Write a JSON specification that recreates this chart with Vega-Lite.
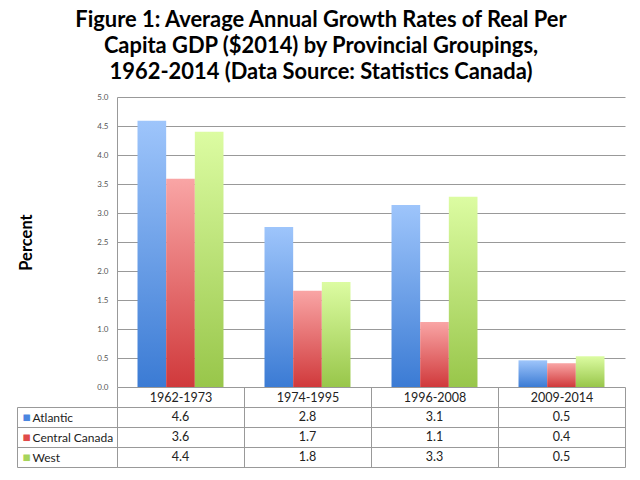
{
  "$schema": "https://vega.github.io/schema/vega-lite/v6.json",
  "background": "white",
  "padding": {"left": 16, "top": 8, "right": 16, "bottom": 14},
  "config": {"view": {"stroke": null}, "font": "Lato"},
  "title": {
    "text": ["Figure 1: Average Annual Growth Rates of Real Per", "Capita GDP ($2014) by Provincial Groupings,", "1962-2014 (Data Source: Statistics Canada)"],
    "font": "Lato", "fontSize": 21.9, "fontWeight": "bold", "color": "#000",
    "lineHeight": 26.3, "anchor": "middle", "frame": "bounds", "offset": 9
  },
  "datasets": {
    "growth": [
      {"period": "1962-1973", "series": "Atlantic", "value": 4.59},
      {"period": "1962-1973", "series": "Central Canada", "value": 3.59},
      {"period": "1962-1973", "series": "West", "value": 4.40},
      {"period": "1974-1995", "series": "Atlantic", "value": 2.76},
      {"period": "1974-1995", "series": "Central Canada", "value": 1.66},
      {"period": "1974-1995", "series": "West", "value": 1.81},
      {"period": "1996-2008", "series": "Atlantic", "value": 3.14},
      {"period": "1996-2008", "series": "Central Canada", "value": 1.12},
      {"period": "1996-2008", "series": "West", "value": 3.28},
      {"period": "2009-2014", "series": "Atlantic", "value": 0.46},
      {"period": "2009-2014", "series": "Central Canada", "value": 0.41},
      {"period": "2009-2014", "series": "West", "value": 0.53}
    ]
  },
  "bounds": "flush",
  "spacing": 20,
  "vconcat": [
    {
      "width": 508, "height": 290,
      "data": {"name": "growth"},
      "encoding": {
        "x": {"field": "period", "type": "nominal", "sort": null, "scale": {"paddingInner": 0.323, "paddingOuter": 0.1615}, "axis": null},
        "xOffset": {"field": "series", "type": "nominal", "sort": null, "scale": {"domain": ["Atlantic", "Central Canada", "West"], "paddingInner": 0, "paddingOuter": 0}},
        "y": {"field": "value", "type": "quantitative", "scale": {"domain": [0, 5], "nice": false},
          "axis": {"values": [0, 0.5, 1, 1.5, 2, 2.5, 3, 3.5, 4, 4.5, 5], "format": ".1f", "title": "Percent",
            "titleFont": "Lato", "titleFontSize": 16.5, "titleFontWeight": "bold", "titleColor": "#000", "titlePadding": 62,
            "labelFont": "Lato", "labelFontSize": 8, "labelColor": "#555", "labelPadding": 9, "ticks": false,
            "domainColor": "#999", "gridColor": "#999", "gridOpacity": 1}}
      },
      "layer": [
        {"transform": [{"filter": {"field": "series", "equal": "Atlantic"}}],
         "mark": {"type": "bar", "color": {"gradient": "linear", "x1": 0, "y1": 0, "x2": 0, "y2": 1, "stops": [{"offset": 0, "color": "#9ec5fb"}, {"offset": 1, "color": "#3b7bd4"}]}}},
        {"transform": [{"filter": {"field": "series", "equal": "Central Canada"}}],
         "mark": {"type": "bar", "color": {"gradient": "linear", "x1": 0, "y1": 0, "x2": 0, "y2": 1, "stops": [{"offset": 0, "color": "#f9a5a5"}, {"offset": 1, "color": "#d0393b"}]}}},
        {"transform": [{"filter": {"field": "series", "equal": "West"}}],
         "mark": {"type": "bar", "color": {"gradient": "linear", "x1": 0, "y1": 0, "x2": 0, "y2": 1, "stops": [{"offset": 0, "color": "#dcfca2"}, {"offset": 1, "color": "#98c64a"}]}}}
      ]
    },
    {
      "width": 508, "height": 60,
      "data": {"name": "growth"},
      "resolve": {"axis": {"y": "independent"}},
      "layer": [
        {
          "mark": {"type": "text", "fontSize": 12.5, "color": "#222", "font": "Lato", "baseline": "middle"},
          "encoding": {
            "x": {"field": "period", "type": "nominal", "sort": null, "scale": {"padding": 0},
              "axis": {"orient": "top", "title": null, "labelAngle": 0, "tickBand": "extent", "tickSize": 20, "tickColor": "#999",
                "domainColor": "#999", "grid": true, "gridColor": "#999", "gridOpacity": 1, "labelPadding": -10, "labelBaseline": "middle",
                "labelFontSize": 12.5, "labelColor": "#222", "labelFont": "Lato"}},
            "y": {"field": "series", "type": "nominal", "sort": ["Atlantic", "Central Canada", "West"], "scale": {"padding": 0},
              "axis": {"orient": "left", "title": null, "tickBand": "extent", "tickSize": 100, "tickColor": "#999",
                "domainColor": "#999", "grid": true, "gridColor": "#999", "gridOpacity": 1, "labelAlign": "left", "labelPadding": -15,
                "labelBaseline": "middle", "labelFontSize": 12, "labelColor": "#222", "labelFont": "Lato"}},
            "text": {"field": "value", "type": "quantitative", "format": ".1f"}
          }
        },
        {
          "mark": {"type": "text", "opacity": 0},
          "encoding": {
            "y": {"field": "series", "type": "nominal", "sort": ["Atlantic", "Central Canada", "West"], "scale": {"padding": 0},
              "axis": {"orient": "left", "title": null, "ticks": false, "grid": false, "domain": true, "domainColor": "#999",
                "offset": 100, "labelExpr": "'■'", "labelAlign": "left", "labelPadding": -5, "labelBaseline": "middle",
                "labelFont": "DejaVu Sans", "labelFontSize": 8.5,
                "labelColor": {"condition": [{"test": "datum.value === 'Atlantic'", "value": "#4a86e0"}, {"test": "datum.value === 'Central Canada'", "value": "#e04a4a"}], "value": "#a6d45c"}}},
            "text": {"value": "x"}
          }
        }
      ]
    }
  ]
}
